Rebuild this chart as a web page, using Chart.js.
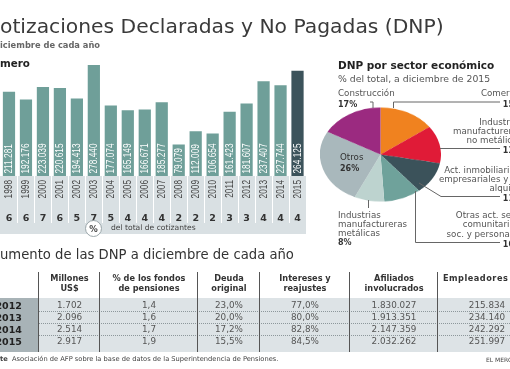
<!DOCTYPE html>
<html>
<head>
<meta charset="utf-8">
<script src="https://cdn.jsdelivr.net/npm/chart.js@4/dist/chart.umd.min.js"></script>
<style>
  html, body { margin: 0; padding: 0; background: #fff; }
  #page { position: relative; width: 510px; height: 369px; overflow: hidden; background: #fff; font-family: 'DejaVu Sans', sans-serif; }
  .t { position: absolute; white-space: nowrap; line-height: 1; }
  canvas { position: absolute; }
</style>
</head>
<body>
<div id="page">
  <canvas id="bars" width="318" height="240" style="left:0;top:0"></canvas>
  <canvas id="pie" width="121" height="121" style="left:320px;top:93.5px;transform:scaleY(0.777);transform-origin:50% 50%"></canvas>
  <svg id="lines" width="510" height="369" style="position:absolute;left:0;top:0" fill="none" stroke="#666" stroke-width="1">
    <polyline points="370,102 373,102 373,108"/>
    <polyline points="393.5,108 393.5,102 500,102"/>
    <polyline points="440,148.5 500,148.5"/>
    <polyline points="419,183 441,196.5 500,196.5"/>
    <polyline points="415.5,191 415.5,242.5 500,242.5"/>
    <polyline points="368.5,200 368.5,208"/>
  </svg>
</div>
<script>
'use strict';

// Número de DNP, a diciembre de cada año
const years = ['1998', '1999', '2000', '2001', '2002', '2003', '2004', '2005', '2006',
  '2007', '2008', '2009', '2010', '2011', '2012', '2013', '2014', '2015'];
const dnpCount = [211281, 192176, 223039, 220615, 194413, 278440, 177074, 165149, 166671,
  185277, 79079, 112009, 106654, 161423, 181607, 237407, 227744, 264125];
const pctCotizantes = [6, 6, 7, 6, 5, 7, 5, 4, 4, 4, 2, 2, 2, 3, 3, 4, 4, 4];

// DNP por sector económico (clockwise from the top)
const sectorNames = ['Comercio', 'Industrias manufactureras no metálicas', 'Act. inmobiliarias, empresariales y de alquiler',
  'Otras act. de servicios comunitarios, soc. y personales', 'Industrias manufactureras metálicas', 'Otros', 'Construcción'];
const sectorPct = [15, 13, 11, 10, 8, 26, 17];
const sectorColors = ['#f0821f', '#e01b37', '#3b525a', '#6fa29b', '#bdd3cf', '#a9b8bc', '#9b2a80'];

// Aumento de las DNP a diciembre de cada año
const tableYears = ['2012', '2013', '2014', '2015'];
const millonesUS = ['1.702', '2.096', '2.514', '2.917'];
const pctFondos = ['1,4', '1,6', '1,7', '1,9'];
const deudaOriginal = ['23,0%', '20,0%', '17,2%', '15,5%'];
const intereses = ['77,0%', '80,0%', '82,8%', '84,5%'];
const afiliados = ['1.830.027', '1.913.351', '2.147.359', '2.032.262'];
const empleadores = ['215.834', '234.140', '242.292', '251.997'];

const page = document.getElementById('page');
const measureCtx = document.createElement('canvas').getContext('2d');
const FAM = '"DejaVu Sans", sans-serif';

function textWidth(str, weight, size) {
  measureCtx.font = weight + ' ' + size + 'px ' + FAM;
  return measureCtx.measureText(str).width;
}

// put a line of text with its baseline at y (DejaVu Sans: baseline ~0.87em under the top of a 1em line box)
function put(str, x, y, o) {
  o = o || {};
  const size = o.size || 8.7;
  const weight = o.weight || 400;
  const d = document.createElement('div');
  d.className = 't';
  d.textContent = str;
  d.style.font = weight + ' ' + size + 'px ' + FAM;
  d.style.color = o.color || '#555';
  d.style.top = (y - 0.87 * size) + 'px';
  if (o.spacing) d.style.letterSpacing = o.spacing + 'px';
  if (o.align === 'right') {
    d.style.right = (510 - x) + 'px';
  } else if (o.align === 'center') {
    d.style.left = x + 'px';
    d.style.transform = 'translateX(-50%)';
  } else {
    d.style.left = x + 'px';
  }
  if (o.z) d.style.zIndex = o.z;
  page.appendChild(d);
  return d;
}

function box(x, y, w, h, style) {
  const d = document.createElement('div');
  d.style.position = 'absolute';
  d.style.left = x + 'px';
  d.style.top = y + 'px';
  d.style.width = w + 'px';
  d.style.height = h + 'px';
  Object.assign(d.style, style || {});
  page.appendChild(d);
  return d;
}

function fmt(n) {
  return String(n).replace(/\B(?=(\d{3})+(?!\d))/g, '.');
}

// titles (the picture is cropped on the left)
put('Cotizaciones Declaradas y No Pagadas (DNP)', -textWidth('C', 400, 20.3), 32, {size: 20.3, color: '#3a3a3a'});
put('A diciembre de cada año', -textWidth('A d', 700, 8.3), 47, {size: 8.3, weight: 700, color: '#666'});
put('Número', -textWidth('Nú', 700, 10.3), 66, {size: 10.3, weight: 700, color: '#222'});

// bar chart
const barColors = dnpCount.map((v, i) => i === dnpCount.length - 1 ? '#3c535b' : '#6f9f99');
const NARROW = '10px "Liberation Sans", Arial, sans-serif';

const bandPlugin = {
  id: 'band',
  beforeDatasetsDraw(chart) {
    const {ctx, chartArea: a, scales: {x}} = chart;
    const step = x.getPixelForValue(1) - x.getPixelForValue(0);
    ctx.save();
    ctx.fillStyle = '#d9e0e3';
    ctx.fillRect(0, a.bottom, 306, 58);
    ctx.strokeStyle = '#ffffff';
    ctx.lineWidth = 1;
    for (let i = 1; i < years.length; i++) {
      const sx = Math.round(x.getPixelForValue(i) - step / 2) + 0.5;
      ctx.beginPath();
      ctx.moveTo(sx, a.bottom);
      ctx.lineTo(sx, a.bottom + 47);
      ctx.stroke();
    }
    years.forEach((yr, i) => {
      const cx = x.getPixelForValue(i);
      ctx.save();
      ctx.translate(cx + 0.5, a.bottom + 4);
      ctx.rotate(-Math.PI / 2);
      ctx.scale(0.83, 1);
      ctx.font = NARROW;
      ctx.fillStyle = '#444';
      ctx.textAlign = 'right';
      ctx.textBaseline = 'middle';
      ctx.fillText(yr, 0, 0);
      ctx.restore();
      ctx.font = '700 9.5px ' + FAM;
      ctx.fillStyle = '#333';
      ctx.textAlign = 'center';
      ctx.textBaseline = 'alphabetic';
      ctx.fillText(String(pctCotizantes[i]), cx, a.bottom + 44.5);
    });
    ctx.restore();
  },
  afterDatasetsDraw(chart) {
    const {ctx, chartArea: a} = chart;
    const meta = chart.getDatasetMeta(0);
    ctx.save();
    ctx.font = NARROW;
    ctx.fillStyle = '#ffffff';
    ctx.textAlign = 'left';
    ctx.textBaseline = 'middle';
    meta.data.forEach((bar, i) => {
      ctx.save();
      ctx.translate(bar.x + 0.5, a.bottom - 2.5);
      ctx.rotate(-Math.PI / 2);
      ctx.scale(0.83, 1);
      ctx.fillText(fmt(dnpCount[i]), 0, 0);
      ctx.restore();
    });
    ctx.restore();
  }
};

new Chart(document.getElementById('bars'), {
  type: 'bar',
  data: {
    labels: years,
    datasets: [{
      data: dnpCount,
      backgroundColor: barColors,
      borderWidth: 0,
      categoryPercentage: 1,
      barPercentage: 0.72
    }]
  },
  options: {
    responsive: false,
    animation: false,
    layout: {padding: {top: 56.4, bottom: 64, left: 0.5, right: 12}},
    plugins: {legend: {display: false}, tooltip: {enabled: false}},
    scales: {
      x: {display: false},
      y: {display: false, min: 0, max: 300000}
    }
  },
  plugins: [bandPlugin]
});

// "%" marker under the band
box(85, 219.5, 17, 17, {borderRadius: '50%', background: '#fff', border: '1px solid #9aa5a9', boxSizing: 'border-box', zIndex: 2});
put('%', 93.5, 231, {size: 8.5, weight: 700, color: '#444', align: 'center', z: 3});
put('del total de cotizantes', 111, 230, {size: 7.6, color: '#444'});

// pie chart
new Chart(document.getElementById('pie'), {
  type: 'pie',
  data: {
    labels: sectorNames,
    datasets: [{data: sectorPct, backgroundColor: sectorColors, borderWidth: 0}]
  },
  options: {
    responsive: false,
    animation: false,
    layout: {padding: 0},
    plugins: {legend: {display: false}, tooltip: {enabled: false}}
  }
});

put('DNP por sector económico', 338, 68, {size: 10.5, weight: 700, color: '#222'});
put('% del total, a diciembre de 2015', 338, 81, {size: 9.3, color: '#555'});

put('Construcción', 338, 96, {});
put(sectorPct[6] + '%', 338, 107, {size: 8, weight: 700, color: '#333'});
put('Otros', 340, 160, {color: '#333', z: 2});
put(sectorPct[5] + '%', 340, 171, {size: 8, weight: 700, color: '#333', z: 2});
put('Industrias', 338, 217.5, {});
put('manufactureras', 338, 226.5, {});
put('metálicas', 338, 235.5, {});
put(sectorPct[4] + '%', 338, 245, {size: 8, weight: 700, color: '#333'});

const R = 522;
put('Comercio', R, 96, {align: 'right'});
put(sectorPct[0] + '%', R, 107, {size: 8, weight: 700, color: '#333', align: 'right'});
put('Industrias', R, 125, {align: 'right'});
put('manufactureras', R, 133.5, {align: 'right'});
put('no metálicas', R, 142.5, {align: 'right'});
put(sectorPct[1] + '%', R, 152.5, {size: 8, weight: 700, color: '#333', align: 'right'});
put('Act. inmobiliarias,', R, 172.5, {align: 'right'});
put('empresariales y de', R, 181.5, {align: 'right'});
put('alquiler', R, 191, {align: 'right'});
put(sectorPct[2] + '%', R, 200.5, {size: 8, weight: 700, color: '#333', align: 'right'});
put('Otras act. serv.', R, 218, {align: 'right'});
put('comunitarios,', R, 227, {align: 'right'});
put('soc. y personales', R, 236.5, {align: 'right'});
put(sectorPct[3] + '%', R, 246.5, {size: 8, weight: 700, color: '#333', align: 'right'});

// table
put('Aumento de las DNP a diciembre de cada año', -textWidth('A', 400, 13.2), 258, {size: 13.2, color: '#333'});

const colEdges = [39, 100, 198, 260, 350, 438, 518];
const heads = [['Millones', 'US$'], ['% de los fondos', 'de pensiones'], ['Deuda', 'original'],
  ['Intereses y', 'reajustes'], ['Afiliados', 'involucrados'], ['Empleadores']];
const cols = [millonesUS, pctFondos, deudaOriginal, intereses, afiliados, empleadores];

const rowTop = 297.5, rowH = 12;
box(39, rowTop, 471, rowH * 4 + 6.5, {background: '#dde3e6'});
box(0, rowTop, 39, rowH * 4 + 6.5, {background: '#a8b3b7'});
for (let r = 1; r < 4; r++) {
  box(39, rowTop + 1.5 + r * rowH, 471, 0, {borderTop: '1px dotted #8d979b'});
}
colEdges.slice(0, 6).forEach((ex) => {
  box(ex - 0.75, 272, 0, 80, {borderLeft: '1.5px solid #555'});
});

heads.forEach((h, c) => {
  const cx = (colEdges[c] + colEdges[c + 1]) / 2;
  h.forEach((line, k) => {
    if (c === 5) put(line, 443, 280.5, {size: 8.2, weight: 700, color: '#333', spacing: 0.5});
    else put(line, cx, 280.5 + k * 10, {size: 8.2, weight: 700, color: '#333', align: 'center'});
  });
  cols[c].forEach((v, r) => {
    const vx = c === 5 ? 487 : cx;
    put(v, vx, rowTop + 10 + r * rowH, {size: 8.8, color: '#555', align: 'center'});
  });
});
tableYears.forEach((yr, r) => {
  put(yr, -4.5, rowTop + 10.5 + r * rowH, {size: 9.5, weight: 700, color: '#222'});
});

// source line
const src = put('', -textWidth('Fuen', 700, 6.7), 361, {size: 6.7, color: '#444'});
src.innerHTML = '<b>Fuente</b>&nbsp; Asociación de AFP sobre la base de datos de la Superintendencia de Pensiones.';
put('EL MERCURIO', 486, 361, {size: 6, color: '#444'});
</script>
</body>
</html>
